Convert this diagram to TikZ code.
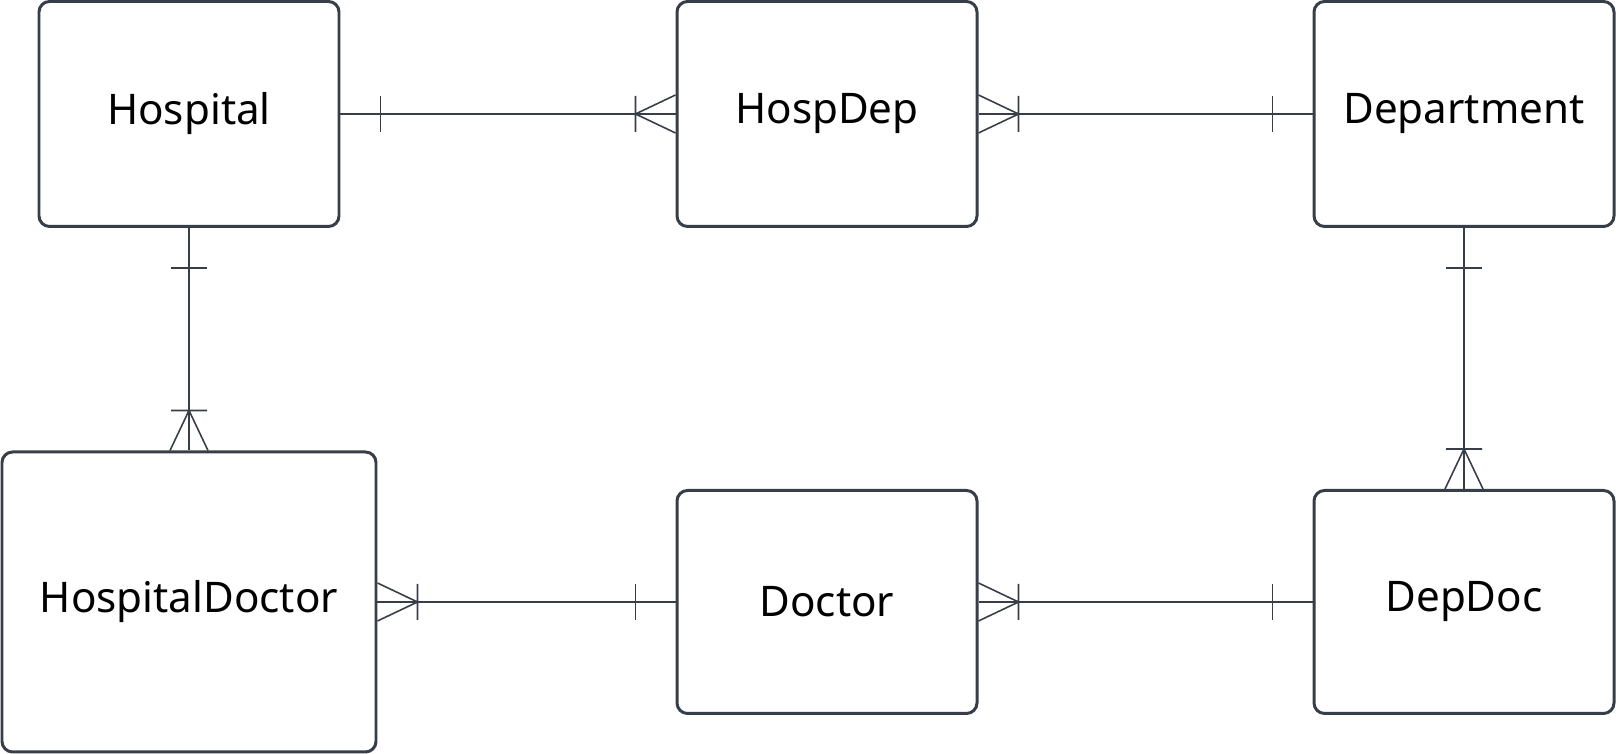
\documentclass[tikz,border=0pt]{standalone}
\usepackage{fontspec}
\setmainfont{Noto Sans}
\usetikzlibrary{decorations.markings}
\tikzset{>=latex}
\usepackage{xcolor}
\definecolor{linecol}{RGB}{56,62,72}
\tikzstyle{entity}=[draw=linecol,line width=0.85pt,rounded corners=3pt,fill=white,minimum width=3cm,minimum height=2.25cm,font=\fontsize{12}{14}\selectfont]
\tikzstyle{rel}=[draw=linecol,line width=0.45pt]
\tikzstyle{one start}=[postaction={decorate,decoration={markings,
  mark=at position 0.4cm with {\draw[rel] (0,-0.18) -- (0,0.18);}}}]
\tikzstyle{many end}=[postaction={decorate,decoration={markings,
  mark=at position -0.4cm with {\draw[rel] (0,-0.18) -- (0,0.18) (0,0) -- (0.4,0.19) (0,0) -- (0.4,-0.19);}}}]

\begin{document}
\begin{tikzpicture}
  \def\Xa{1.89}
  \def\Xb{8.27}
  \def\Xc{14.64}
  \def\Ytop{6.40}
  \def\Ybot{1.52}
  \useasboundingbox (0,0) rectangle (16.16,7.54);
  \node[entity] (hospital) at (\Xa,\Ytop) {Hospital};
  \node[entity] (hospdep) at (\Xb,\Ytop) {HospDep};
  \node[entity] (department) at (\Xc,\Ytop) {Department};
  \node[entity,minimum width=3.74cm,minimum height=3cm] (hospdoc) at (\Xa,\Ybot) {HospitalDoctor};
  \node[entity,minimum height=2.23cm] (doctor) at (\Xb,\Ybot) {Doctor};
  \node[entity,minimum height=2.23cm] (depdoc) at (\Xc,\Ybot) {DepDoc};
  % relations
  \draw[rel,one start,many end] (hospital) -- (hospdep);
  \draw[rel,one start,many end] (department) -- (hospdep);
  \draw[rel,one start,many end] (hospital) -- (hospdoc);
  \draw[rel,one start,many end] (department) -- (depdoc);
  \draw[rel,one start,many end] (doctor) -- (hospdoc);
  \draw[rel,one start,many end] (depdoc) -- (doctor);
\end{tikzpicture}
\end{document}
